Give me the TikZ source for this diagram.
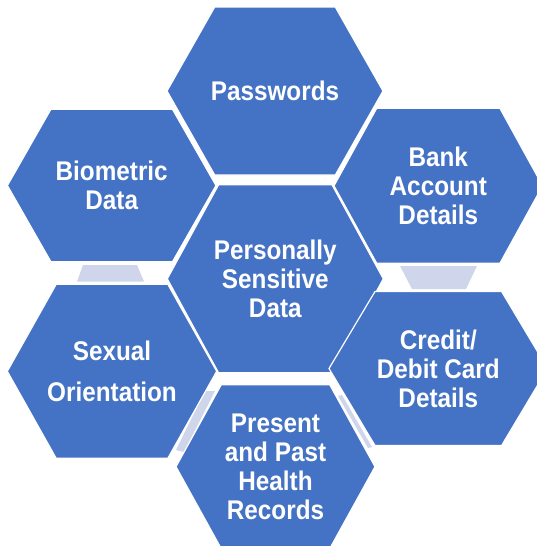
\documentclass[tikz,border=0pt]{standalone}
\usepackage{fontspec}
\setmainfont{Liberation Sans}[FakeStretch=0.9]
\usepackage{tikz}
\definecolor{cellblue}{RGB}{68,114,196}
\definecolor{linklilac}{RGB}{207,213,234}

% #1 name, #2/#3 centre, #4 half width, #5 half height, #6 half top edge, #7 text
\newcommand{\hexcell}[7]{%
  \filldraw[cell] ({#2-#4},#3) -- ({#2-#6},{#3-#5}) -- ({#2+#6},{#3-#5})
    -- ({#2+#4},#3) -- ({#2+#6},{#3+#5}) -- ({#2-#6},{#3+#5}) -- cycle;
  \node[celltext] (#1) at (#2,#3) {#7};
}

\begin{document}
\begin{tikzpicture}[
    x=1pt, y=-1pt,
    cell/.style={fill=cellblue, draw=white, line width=1.2pt, line join=miter},
    celltext/.style={text=white, align=center, inner sep=0pt,
      font=\fontsize{27}{29}\selectfont\bfseries},
    link/.style={fill=linklilac}
  ]
  \clip (0,0) rectangle (537,546);

  % lilac links between neighbouring cells
  \fill[link] (83,265) -- (137,265) -- (144,281.5) -- (77,281.5) -- cycle;
  \fill[link] (400,266) -- (477,266) -- (466,289) -- (412,289) -- cycle;
  \fill[link] (205,391) -- (215,391) -- (184,452) -- (176,450) -- cycle;
  \fill[link] (338,396) -- (342,395) -- (372,447) -- (368,448) -- cycle;

  % cells
  \hexcell{pw}{275}{91}{108}{84}{60.3}{Passwords}
  \hexcell{bio}{111.7}{185.5}{104.3}{76.2}{60.8}{Biometric\\Data}
  \hexcell{bank}{438.3}{185.8}{104.3}{77.5}{61.6}{Bank\\Account\\Details}
  \hexcell{psd}{275.3}{278.8}{108}{94}{56.7}{Personally\\Sensitive\\Data}
  \hexcell{sex}{112}{371.3}{104.7}{87}{55.8}{Sexual\\[12.5pt]Orientation}
  \hexcell{card}{438.3}{368.5}{109.3}{77}{63.3}{Credit/\\Debit Card\\Details}
  \hexcell{health}{275.5}{466.7}{99.5}{82}{54.2}{Present\\and Past\\Health\\Records}
\end{tikzpicture}
\end{document}
